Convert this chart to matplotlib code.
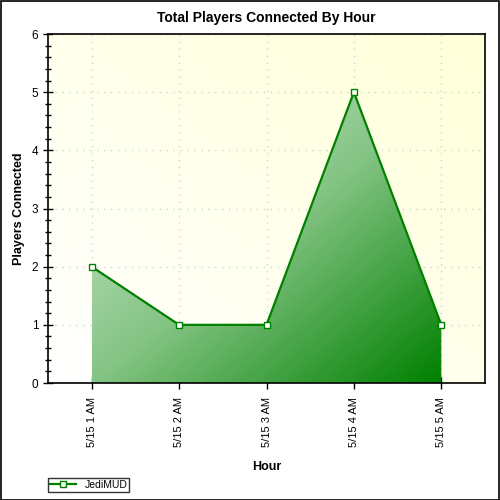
import numpy as np
import matplotlib.pyplot as plt
from matplotlib.colors import LinearSegmentedColormap
from matplotlib.ticker import MultipleLocator

plt.rcParams['font.family'] = ['Liberation Sans', 'DejaVu Sans']

hours = ["5/15 1 AM", "5/15 2 AM", "5/15 3 AM", "5/15 4 AM", "5/15 5 AM"]
players = [2, 1, 1, 5, 1]
series_name = "JediMUD"

fig = plt.figure(figsize=(5, 5), dpi=100)
ax = fig.add_axes([0.096, 0.234, 0.874, 0.698])

x = np.arange(len(hours))

# background gradient: white bottom-left -> light yellow top-right
bg = LinearSegmentedColormap.from_list("bg", ["#ffffff", "#ffffd8"])
gx, gy = np.meshgrid(np.linspace(0, 1, 200), np.linspace(0, 1, 200))
ax.imshow((gx + gy) / 2, cmap=bg, extent=[0, 1, 0, 1], origin="lower",
          transform=ax.transAxes, aspect="auto", zorder=0)

# area fill with diagonal green gradient
fill = ax.fill_between(x, players, 0, color="none", zorder=2)
gr = LinearSegmentedColormap.from_list("gr", [(0, "#d4ead4"), (0.5, "#84c484"), (1, "#008000")])
img = ax.imshow((gx + (1 - gy)) / 2, cmap=gr, origin="lower",
                extent=[x[0], x[-1], 0, max(players)], aspect="auto", zorder=2)
img.set_clip_path(fill.get_paths()[0], ax.transData)

ax.plot(x, players, color="#008000", lw=1.6, marker="s", ms=5,
        mfc="white", mec="#008000", mew=1, zorder=4, label=series_name)

ax.set_xlim(-0.5, len(hours) - 0.5)
ax.set_ylim(0, 6)

ax.set_xticks(x)
ax.set_xticklabels(hours, rotation=90, fontsize=8)
ax.yaxis.set_major_locator(MultipleLocator(1))
ax.yaxis.set_minor_locator(MultipleLocator(0.2))
ax.tick_params(axis="y", labelsize=8.5, direction="inout", length=7, width=1)
ax.tick_params(axis="y", which="minor", direction="inout", length=5, width=1)
ax.tick_params(axis="x", direction="inout", length=8, width=1, pad=6)
ax.grid(True, color="#d2d2d2", linestyle=(0, (1, 4)), lw=1, zorder=1)
ax.set_axisbelow(True)
for s in ax.spines.values():
    s.set_linewidth(1.2)
    s.set_zorder(5)

ax.set_title("Total Players Connected By Hour", fontsize=10, fontweight="bold", pad=9)
ax.set_xlabel("Hour", fontsize=9, fontweight="bold", labelpad=10)
ax.set_ylabel("Players Connected", fontsize=9, fontweight="bold", labelpad=5)

leg = fig.legend(loc="lower left", bbox_to_anchor=(0.096, 0.016), fontsize=7.5,
                 fancybox=False, frameon=True, borderpad=0.2, handlelength=2.5,
                 handletextpad=0.8, borderaxespad=0)
leg.get_frame().set_edgecolor("black")
leg.get_frame().set_linewidth(1)

fig.patches.append(plt.Rectangle((0.001, 0.001), 0.997, 0.997, transform=fig.transFigure,
                                 fill=False, edgecolor="black", lw=1.2))

fig.savefig("out.png", dpi=100)
